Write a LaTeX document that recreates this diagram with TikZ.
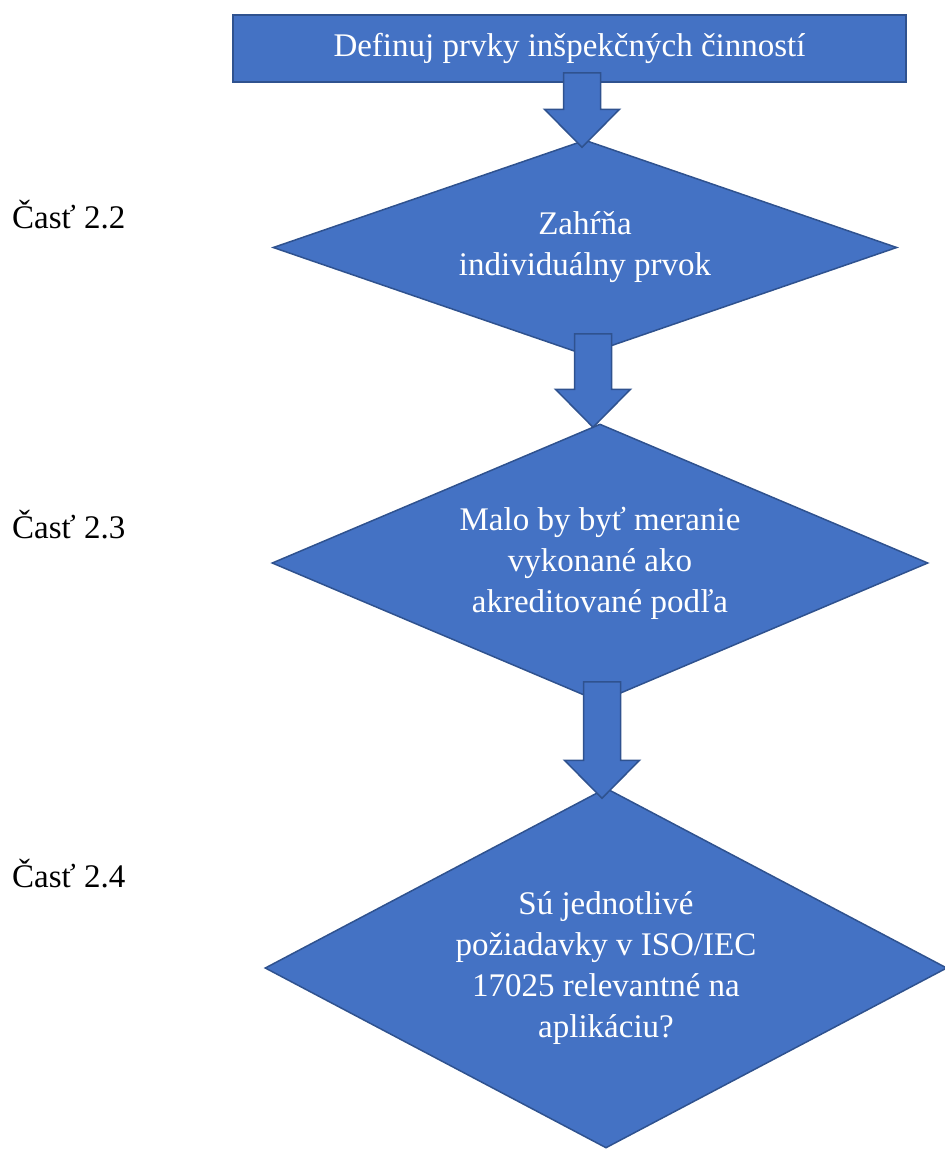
\documentclass[tikz,border=0pt]{standalone}
\usepackage{fontspec}
\setmainfont{Liberation Serif}
\usetikzlibrary{shapes.geometric,calc}
\definecolor{boxblue}{HTML}{4472C4}
\definecolor{edgeblue}{HTML}{2F528F}
\newcommand{\blockarrow}[2]{%
  \draw[arrowbox] let \p1=(#1), \p2=(#2) in
    (\x2-18.5pt,\y1) -- (\x2+18.5pt,\y1) -- (\x2+18.5pt,\y2+38pt) -- (\x2+37.5pt,\y2+38pt)
    -- (\x2,\y2) -- (\x2-37.5pt,\y2+38pt) -- (\x2-18.5pt,\y2+38pt) -- cycle;}
\begin{document}
\begin{tikzpicture}[x=1pt,y=-1pt,
    every node/.style={font=\fontsize{33}{41}\selectfont},
    flowbox/.style={draw=edgeblue,fill=boxblue,line width=1.5pt,text=white,align=center,inner sep=0pt},
    decision/.style={flowbox,diamond,aspect=2},
    arrowbox/.style={draw=edgeblue,fill=boxblue,line width=1.5pt,line join=miter},
    partlabel/.style={anchor=base west,inner sep=0pt}]
        \useasboundingbox (0,0) rectangle (945,1149);
        \clip (0,0) rectangle (945,1149);
        \node[flowbox,minimum width=673pt,minimum height=67pt] (define) at (569.5,48.5) {Definuj prvky inšpekčných činností};
        \node[decision,minimum width=624pt,minimum height=215pt] (cover) at (585,247.5) {Zahŕňa\\individuálny prvok};
        \node[decision,minimum width=656pt,minimum height=278pt] (accred) at (600,563) {Malo by byť meranie\\vykonané ako\\akreditované podľa};
        \node[decision,minimum width=682pt,minimum height=360pt] (relev) at (606,968) {Sú jednotlivé\\požiadavky v ISO/IEC\\17025 relevantné na\\aplikáciu?};
        \node[partlabel] (part22) at (12,228) {Časť 2.2};
        \node[partlabel] (part23) at (12,538) {Časť 2.3};
        \node[partlabel] (part24) at (12,887) {Časť 2.4};
        \coordinate (a1top) at ([yshift=10pt]define.south);
        \coordinate (a1tip) at ([xshift=-3pt,yshift=-8pt]cover.north);
        \coordinate (a2top) at ([yshift=22pt]cover.south);
        \coordinate (a2tip) at ([xshift=-7pt,yshift=-4pt]accred.north);
        \coordinate (a3top) at ([yshift=21pt]accred.south);
        \coordinate (a3tip) at ([xshift=-4pt,yshift=-11pt]relev.north);
        \blockarrow{a1top}{a1tip}
        \blockarrow{a2top}{a2tip}
        \blockarrow{a3top}{a3tip}
    \end{tikzpicture}
\end{document}
